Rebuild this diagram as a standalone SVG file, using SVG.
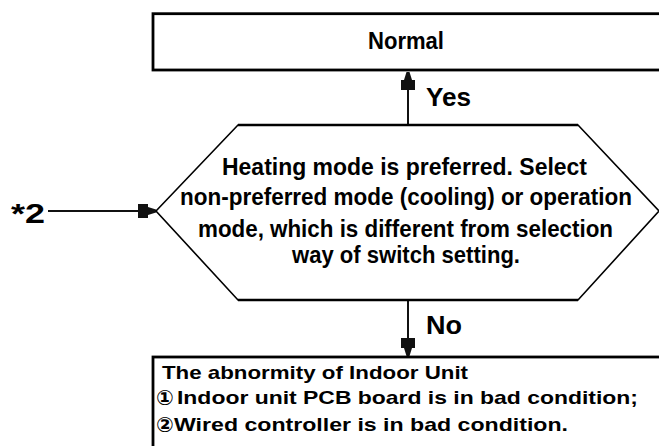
<svg xmlns="http://www.w3.org/2000/svg" width="659" height="446" viewBox="0 0 659 446">
  <style>
    .box { fill: #fff; stroke: #000; stroke-width: 2.8; }
    .hex { fill: #fff; stroke: #000; stroke-width: 1.6; }
    .hexedge { stroke: #000; stroke-width: 2.6; }
    .conn { fill: none; stroke: #111; stroke-width: 2; }
    text { font-family: "Liberation Sans", Arial, "Noto Sans CJK SC", sans-serif; font-weight: bold; fill: #000; }
    .t22 { font-size: 23px; }
    .t19 { font-size: 19px; }
    .num { font-size: 21px; font-family: "DejaVu Sans", "Noto Sans CJK SC", sans-serif; }
    .lbl { font-size: 26px; }
  </style>
  <defs>
    <marker id="arrow" viewBox="0 0 18 16" refX="18" refY="8" markerWidth="18" markerHeight="16" markerUnits="userSpaceOnUse" orient="auto">
      <path d="M0,1 H10 V4 L18,6.5 V9.5 L10,12 V15 H0 Z" fill="#111"/>
    </marker>
  </defs>

  <!-- Connectors -->
  <g id="connectors">
    <line class="conn" x1="408" y1="125" x2="408" y2="72" marker-end="url(#arrow)"/>
    <line class="conn" x1="408" y1="300" x2="408" y2="356" marker-end="url(#arrow)"/>
    <line class="conn" x1="48" y1="211" x2="156" y2="211" marker-end="url(#arrow)"/>
    <text class="lbl" x="426" y="106" textLength="45" lengthAdjust="spacingAndGlyphs">Yes</text>
    <text class="lbl" x="426" y="334" textLength="36" lengthAdjust="spacingAndGlyphs">No</text>
  </g>

  <!-- Entry reference -->
  <g id="ref2">
    <text x="11" y="223" font-size="28" textLength="34" lengthAdjust="spacingAndGlyphs">*2</text>
  </g>

  <!-- Result: normal -->
  <g id="normal">
    <rect class="box" x="153" y="13.7" width="512" height="56.3"/>
    <text class="t22" x="368" y="49" textLength="76" lengthAdjust="spacingAndGlyphs">Normal</text>
  </g>

  <!-- Decision -->
  <g id="decision">
    <polygon class="hex" points="156,211 238,125 578,125 659,211 578,300 238,300"/>
    <line class="hexedge" x1="238" y1="125" x2="578" y2="125"/>
    <line class="hexedge" x1="238" y1="300" x2="578" y2="300"/>
    <text class="t22" x="222" y="175" textLength="365" lengthAdjust="spacingAndGlyphs">Heating mode is preferred. Select</text>
    <text class="t22" x="180" y="205" textLength="452" lengthAdjust="spacingAndGlyphs">non-preferred mode (cooling) or operation</text>
    <text class="t22" x="198" y="237" textLength="415" lengthAdjust="spacingAndGlyphs">mode, which is different from selection</text>
    <text class="t22" x="292" y="263" textLength="228" lengthAdjust="spacingAndGlyphs">way of switch setting.</text>
  </g>

  <!-- Result: indoor unit fault -->
  <g id="indoor-fault">
    <rect class="box" x="153" y="357" width="512" height="100"/>
    <text class="t19" x="162" y="379" textLength="306" lengthAdjust="spacingAndGlyphs">The abnormity of Indoor Unit</text>
    <text class="num" x="156" y="405">①</text>
    <text class="t19" x="177" y="404" textLength="461" lengthAdjust="spacingAndGlyphs">Indoor unit PCB board is in bad condition;</text>
    <text class="num" x="156" y="432">②</text>
    <text class="t19" x="174" y="431" textLength="394" lengthAdjust="spacingAndGlyphs">Wired controller is in bad condition.</text>
  </g>
</svg>
